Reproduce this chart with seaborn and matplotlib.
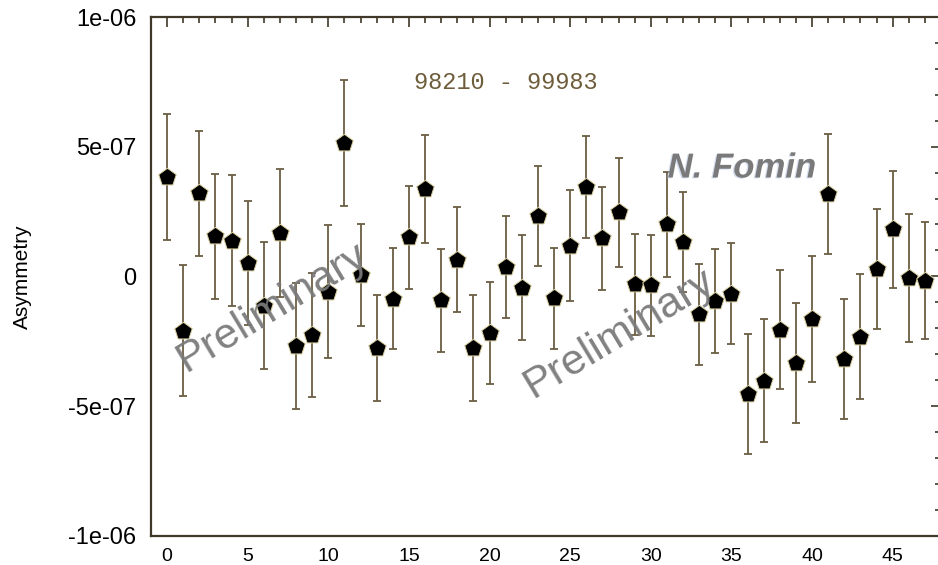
import numpy as np
import pandas as pd
import matplotlib
matplotlib.use("Agg")
import matplotlib.pyplot as plt
import matplotlib.ticker as mticker
import matplotlib.patheffects as pe
import seaborn as sns

# Run-group asymmetries (units of 1e-7) and their statistical errors
runs = list(range(48))
asym_e7 = [3.83, -2.09, 3.20, 1.54, 1.38, 0.52, -1.14, 1.67, -2.68, -2.27,
           -0.59, 5.13, 0.05, -2.77, -0.87, 1.51, 3.37, -0.93, 0.64, -2.77,
           -2.19, 0.35, -0.43, 2.33, -0.85, 1.18, 3.45, 1.47, 2.47, -0.31,
           -0.34, 2.00, 1.33, -1.46, -0.94, -0.67, -4.53, -4.02, -2.06, -3.34,
           -1.65, 3.18, -3.18, -2.32, 0.28, 1.82, -0.05, -0.17]
err_e7 = [2.43, 2.54, 2.40, 2.41, 2.52, 2.40, 2.45, 2.48, 2.44, 2.39,
          2.57, 2.43, 1.95, 2.04, 1.95, 1.98, 2.09, 1.97, 2.02, 2.05,
          1.97, 1.96, 2.03, 1.94, 1.94, 2.14, 1.96, 1.98, 2.10, 1.95,
          1.95, 2.03, 1.93, 1.95, 2.00, 1.95, 2.31, 2.38, 2.30, 2.30,
          2.43, 2.31, 2.32, 2.42, 2.30, 2.25, 2.47, 2.25]
run_range = "98210 - 99983"
y_label = "Asymmetry"
watermark = "Preliminary"
author = "N. Fomin"

df = pd.DataFrame({
    "run": runs,
    "asym": np.array(asym_e7) * 1e-7,
    "err": np.array(err_e7) * 1e-7,
})

sns.set_theme(style="white")
plt.rcParams["font.family"] = ["Liberation Sans", "DejaVu Sans"]

axis_col = "#3f3828"
bar_col = "#6b5e44"

fig = plt.figure(figsize=(9.38, 5.65), dpi=100)
ax = fig.add_axes([151 / 938, 1 - 535.7 / 565, 790 / 938, 518.7 / 565])

ax.errorbar(df["run"], df["asym"], yerr=df["err"], fmt="none",
            ecolor=bar_col, elinewidth=1.3, capsize=3.2, capthick=1.3,
            zorder=2)
sns.scatterplot(data=df, x="run", y="asym", marker="p", s=175,
                color="black", edgecolor="#d9cf9f", linewidth=0.7,
                ax=ax, zorder=3, legend=False)

ax.set_xlim(-1, 48)
ax.set_ylim(-1e-6, 1e-6)
ax.set_xlabel("")
ax.set_ylabel(y_label, fontsize=15, labelpad=26, color="black")

ax.xaxis.set_major_locator(mticker.MultipleLocator(5))
ax.xaxis.set_minor_locator(mticker.MultipleLocator(1))
ax.yaxis.set_major_locator(mticker.MultipleLocator(5e-7))
ax.yaxis.set_minor_locator(mticker.MultipleLocator(1e-7))
ax.yaxis.set_major_formatter(mticker.FuncFormatter(lambda v, p: "%g" % (round(v * 1e7) / 1e7)))
ax.xaxis.set_major_formatter(mticker.FuncFormatter(lambda v, p: "%d" % v))

ax.tick_params(which="both", direction="in", top=True, right=True,
               color=axis_col, width=1.2)
ax.tick_params(which="major", length=7.5)
ax.tick_params(which="minor", length=4)
ax.tick_params(axis="x", which="major", labelsize=14, pad=8.5, labelcolor="black")
ax.tick_params(axis="y", which="major", labelsize=17, pad=10.5, labelcolor="black")

for sp in ax.spines.values():
    sp.set_color(axis_col)
    sp.set_linewidth(1.6)
    sp.set_visible(True)

ax.text(0.449, 0.873, run_range, transform=ax.transAxes,
        family="Liberation Mono", fontsize=17, color="#6e5d3b",
        ha="center", va="center")

for cx, cy in [(272, 308), (619, 334)]:
    fig.text(cx / 938, 1 - cy / 565, watermark, fontsize=31, color="#7a7a7a",
             rotation=31, rotation_mode="anchor", ha="center", va="center",
             alpha=0.95, zorder=10)

fig.text(742 / 938, 1 - 168 / 565, author, fontsize=25, color="#7a7a7a",
         fontweight="bold", fontstyle="italic", ha="center", va="center",
         path_effects=[pe.SimplePatchShadow(offset=(-1.0, -0.6),
                                            shadow_rgbFace="#a8bde0", alpha=0.5),
                       pe.Normal()], zorder=10)

fig.savefig("out.png", dpi=100)
